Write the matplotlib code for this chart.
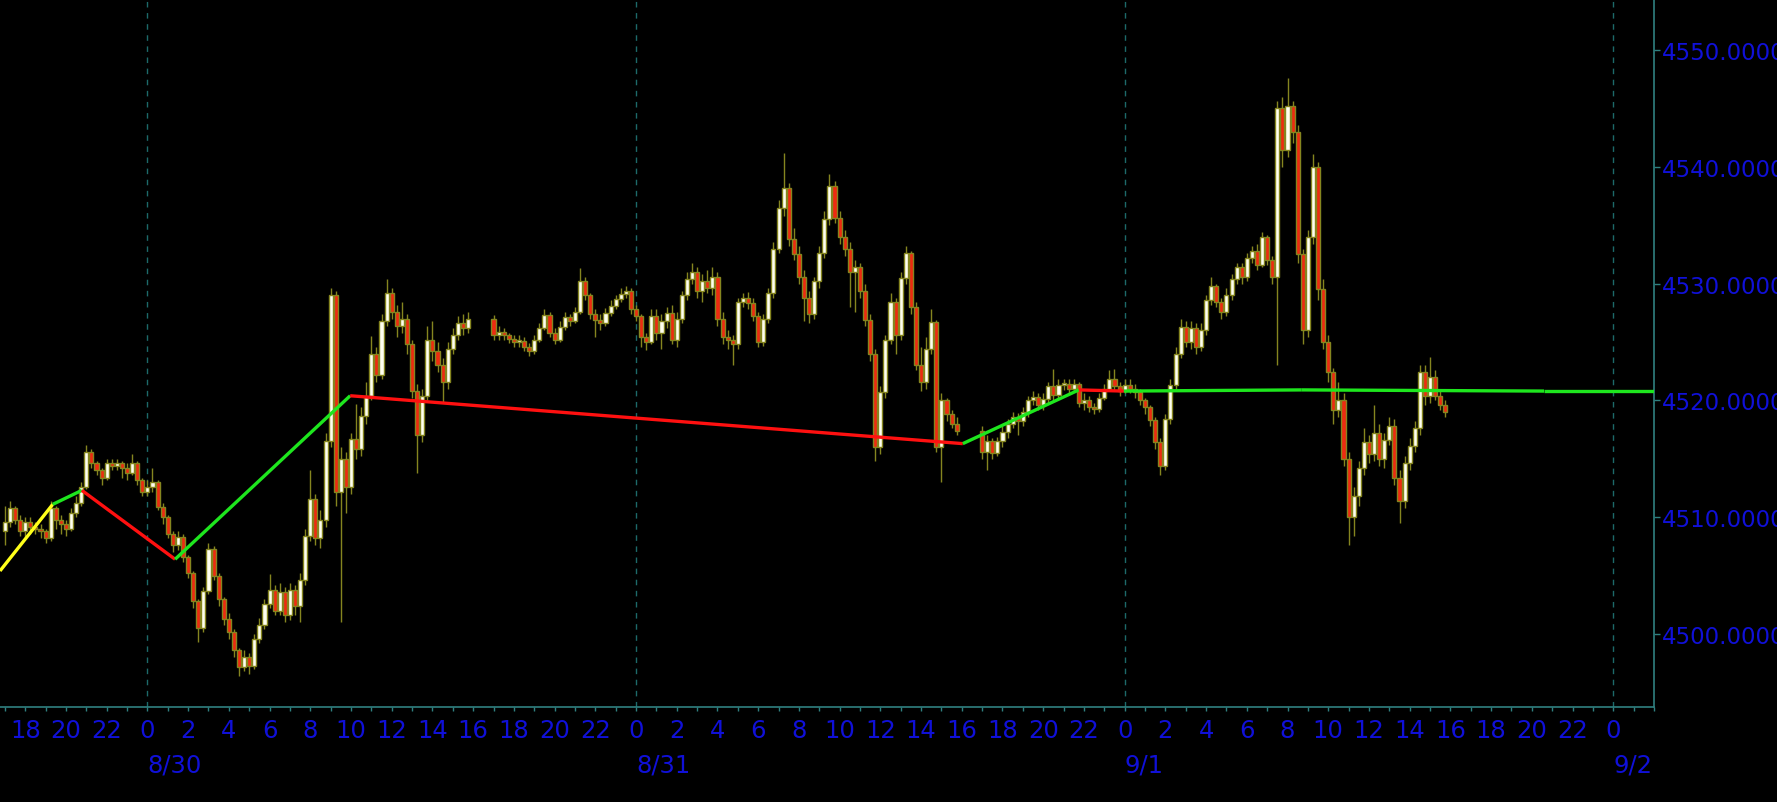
import matplotlib.pyplot as plt
import numpy as np
from matplotlib import font_manager
from matplotlib.ticker import MultipleLocator, FuncFormatter
import matplotlib.transforms as mtransforms

# time axis: hours counted from 8/30 00:00, 15 minute bars, 92 bars per session
session_start = [-7.0, 17.0, 41.0]
first_open = 4508.8

close_s1 = [4509.6, 4510.8, 4509.8, 4508.8, 4509.6, 4509.2, 4509.0, 4508.8, 4508.2, 4510.8,
            4509.8, 4509.4, 4509.0, 4510.4, 4511.2, 4512.6, 4515.6, 4514.6, 4514.0, 4513.4,
            4514.6, 4514.4, 4514.6, 4514.2, 4513.8, 4514.6, 4513.2, 4512.2, 4512.6, 4513.0,
            4510.9, 4510.0, 4508.6, 4507.6, 4508.3, 4506.6, 4505.2, 4502.8, 4500.5, 4503.7,
            4507.3, 4505.0, 4503.0, 4501.3, 4500.2, 4498.6, 4497.2, 4498.0, 4497.3, 4499.6,
            4500.8, 4502.6, 4503.8, 4502.0, 4503.6, 4501.6, 4503.8, 4502.4, 4504.6, 4508.4,
            4511.6, 4508.2, 4509.8, 4516.5, 4529.0, 4512.2, 4515.0, 4512.6, 4516.7, 4515.8,
            4518.7, 4520.4, 4524.0, 4522.2, 4526.8, 4529.2, 4527.6, 4526.4, 4527.0, 4524.8,
            4520.8, 4517.0, 4520.4, 4525.2, 4524.2, 4523.0, 4521.6, 4524.4, 4525.6, 4526.6,
            4526.2, 4527.0]
high_s1 = [4511.0, 4511.4, 4511.0, 4510.2, 4510.0, 4510.0, 4509.6, 4509.4, 4509.0, 4511.4,
           4511.0, 4510.2, 4509.8, 4510.8, 4511.8, 4513.0, 4516.2, 4515.8, 4514.8, 4514.2,
           4515.0, 4515.0, 4515.0, 4514.8, 4514.6, 4515.4, 4514.8, 4513.4, 4513.2, 4514.2,
           4513.2, 4511.2, 4510.2, 4508.8, 4508.8, 4508.6, 4506.8, 4505.4, 4503.0, 4504.0,
           4507.8, 4507.5, 4505.2, 4503.2, 4501.8, 4500.4, 4498.8, 4498.6, 4498.4, 4500.0,
           4501.4, 4503.0, 4505.1, 4504.2, 4504.4, 4504.0, 4504.4, 4504.2, 4505.2, 4509.0,
           4514.0, 4512.0, 4510.6, 4517.2, 4529.6, 4529.4, 4516.0, 4515.6, 4517.2, 4519.7,
           4519.4, 4521.6, 4525.5, 4524.6, 4527.4, 4530.4, 4529.6, 4528.2, 4528.4, 4527.4,
           4525.2, 4521.4, 4521.0, 4526.4, 4526.8, 4525.0, 4523.6, 4525.0, 4526.2, 4527.2,
           4527.4, 4527.6]
low_s1 = [4507.6, 4509.2, 4509.4, 4508.4, 4508.3, 4508.6, 4508.6, 4508.2, 4507.8, 4508.0,
          4509.0, 4508.6, 4508.4, 4508.8, 4510.0, 4511.0, 4512.4, 4514.2, 4513.6, 4512.8,
          4513.2, 4514.0, 4514.0, 4513.4, 4513.2, 4513.6, 4512.8, 4511.8, 4511.8, 4512.2,
          4510.6, 4509.4, 4508.2, 4507.0, 4507.2, 4506.2, 4504.8, 4502.2, 4499.3, 4500.2,
          4503.4, 4504.6, 4502.4, 4500.8, 4499.6, 4498.0, 4496.4, 4496.8, 4496.6, 4497.0,
          4499.2, 4500.4, 4502.2, 4501.6, 4501.6, 4501.0, 4501.2, 4501.6, 4501.0, 4504.2,
          4508.0, 4507.6, 4507.4, 4509.2, 4516.0, 4511.0, 4501.0, 4510.4, 4512.0, 4515.0,
          4515.2, 4518.0, 4520.0, 4521.6, 4521.8, 4526.4, 4527.0, 4525.4, 4525.8, 4524.0,
          4520.2, 4513.8, 4516.4, 4520.0, 4523.4, 4522.4, 4519.8, 4521.0, 4524.0, 4525.2,
          4525.6, 4525.8]

close_s2 = [4525.6, 4525.9, 4525.6, 4525.3, 4525.0, 4525.1, 4524.6, 4524.2, 4525.2, 4526.2,
            4527.3, 4525.8, 4525.2, 4526.3, 4527.1, 4526.8, 4527.6, 4530.2, 4529.0, 4527.4,
            4526.9, 4526.6, 4527.5, 4528.1, 4528.7, 4529.1, 4529.4, 4527.8, 4527.2, 4525.4,
            4525.0, 4527.2, 4525.8, 4526.8, 4527.5, 4525.2, 4527.0, 4529.0, 4530.4, 4531.0,
            4529.4, 4530.2, 4529.6, 4530.6, 4527.0, 4525.4, 4525.2, 4524.8, 4528.4, 4528.8,
            4528.3, 4527.2, 4525.0, 4527.0, 4529.2, 4533.0, 4536.5, 4538.2, 4533.8, 4532.5,
            4530.6, 4528.8, 4527.4, 4530.2, 4532.6, 4535.5, 4538.4, 4535.6, 4534.0, 4533.0,
            4531.0, 4531.4, 4529.4, 4526.9, 4524.0, 4516.0, 4520.7, 4525.2, 4528.4, 4525.6,
            4530.5, 4532.6, 4528.0, 4523.0, 4521.6, 4524.4, 4526.7, 4516.0, 4520.0, 4518.8,
            4518.0, 4517.4]
high_s2 = [4527.3, 4526.4, 4526.2, 4525.8, 4525.6, 4525.6, 4525.4, 4524.9, 4525.6, 4526.6,
           4527.8, 4527.6, 4526.2, 4526.8, 4527.6, 4527.4, 4528.0, 4531.3, 4530.6, 4529.2,
           4527.8, 4527.4, 4527.9, 4528.6, 4529.0, 4529.6, 4529.8, 4529.6, 4528.2, 4527.4,
           4525.8, 4527.8, 4527.8, 4527.4, 4528.0, 4528.2, 4527.6, 4529.4, 4531.0, 4531.8,
           4531.4, 4530.8, 4531.2, 4531.4, 4531.0, 4527.6, 4526.0, 4525.6, 4528.8, 4529.2,
           4529.3, 4528.8, 4527.6, 4527.4, 4529.6, 4533.6, 4537.2, 4541.2, 4538.6, 4534.8,
           4533.2, 4531.2, 4529.4, 4530.6, 4533.2, 4536.2, 4539.4, 4538.8, 4536.2, 4534.6,
           4533.6, 4532.0, 4531.8, 4530.0, 4527.4, 4524.4, 4521.2, 4525.6, 4529.2, 4528.8,
           4531.0, 4533.2, 4532.8, 4528.4, 4524.6, 4525.4, 4527.8, 4526.9, 4520.6, 4520.2,
           4519.2, 4518.6]
low_s2 = [4525.2, 4525.2, 4525.2, 4524.9, 4524.6, 4524.6, 4524.2, 4523.8, 4524.0, 4525.0,
          4526.0, 4525.4, 4524.8, 4525.0, 4526.0, 4526.4, 4526.6, 4527.4, 4528.6, 4527.0,
          4525.4, 4526.0, 4526.4, 4527.2, 4527.8, 4528.4, 4528.8, 4527.4, 4526.8, 4524.6,
          4524.3, 4524.8, 4525.2, 4524.4, 4526.2, 4524.8, 4524.6, 4526.6, 4528.6, 4530.0,
          4528.8, 4528.4, 4529.2, 4529.0, 4526.4, 4524.8, 4524.4, 4523.0, 4524.4, 4528.0,
          4527.8, 4526.8, 4524.6, 4524.7, 4526.6, 4528.8, 4532.6, 4535.8, 4533.2, 4532.0,
          4530.0, 4526.8, 4526.6, 4527.0, 4529.6, 4532.2, 4535.0, 4535.2, 4533.4, 4532.4,
          4528.0, 4527.6, 4528.8, 4526.4, 4523.4, 4514.8, 4515.4, 4520.2, 4524.8, 4524.0,
          4525.2, 4530.0, 4527.4, 4522.6, 4520.8, 4521.0, 4524.0, 4515.6, 4513.0, 4518.2,
          4517.6, 4517.0]

close_s3 = [4515.6, 4516.5, 4515.5, 4516.5, 4517.3, 4518.0, 4518.6, 4518.2, 4519.0, 4520.0,
            4520.3, 4519.6, 4520.1, 4521.2, 4520.5, 4521.3, 4521.4, 4521.0, 4521.4, 4519.8,
            4520.0, 4519.4, 4519.3, 4520.2, 4521.0, 4521.8, 4521.2, 4520.8, 4521.3, 4521.0,
            4520.7, 4520.0, 4519.4, 4518.3, 4516.4, 4514.4, 4518.4, 4521.3, 4524.0, 4526.3,
            4525.0, 4526.2, 4524.6, 4526.0, 4528.6, 4529.8, 4528.4, 4527.6, 4529.0, 4530.4,
            4531.4, 4530.6, 4532.2, 4532.8, 4531.6, 4534.0, 4532.0, 4530.6, 4545.0, 4541.4,
            4545.2, 4543.0, 4532.5, 4526.0, 4534.0, 4540.0, 4529.5, 4525.0, 4522.4, 4519.2,
            4520.0, 4515.0, 4510.0, 4511.8, 4514.2, 4516.4, 4515.4, 4517.2, 4515.0, 4516.6,
            4517.8, 4513.4, 4511.4, 4514.6, 4516.1, 4517.6, 4522.4, 4520.4, 4522.0, 4520.4,
            4519.6, 4519.0]
high_s3 = [4517.8, 4517.0, 4516.8, 4516.9, 4517.8, 4518.4, 4519.0, 4518.9, 4519.4, 4520.4,
           4520.8, 4520.6, 4520.6, 4521.6, 4522.7, 4521.8, 4521.8, 4521.8, 4521.8, 4521.6,
           4520.6, 4520.4, 4519.8, 4520.6, 4521.4, 4522.6, 4522.7, 4521.6, 4521.8, 4521.8,
           4521.4, 4521.0, 4520.2, 4519.6, 4518.6, 4516.8, 4518.8, 4521.8, 4524.6, 4527.0,
           4526.8, 4526.8, 4526.6, 4526.6, 4529.0, 4530.6, 4530.0, 4528.8, 4529.6, 4530.8,
           4531.8, 4531.8, 4532.6, 4533.2, 4533.4, 4534.4, 4534.2, 4532.4, 4545.6, 4546.0,
           4547.6, 4545.6, 4543.6, 4533.0, 4534.6, 4541.1, 4540.4, 4530.4, 4525.6, 4522.8,
           4521.6, 4520.6, 4515.6, 4512.6, 4514.8, 4517.6, 4517.0, 4519.6, 4518.0, 4517.2,
           4518.6, 4518.4, 4514.0, 4515.2, 4516.8, 4518.2, 4523.0, 4523.0, 4523.7, 4522.6,
           4520.8, 4520.0]
low_s3 = [4515.0, 4514.0, 4515.0, 4515.2, 4516.0, 4516.8, 4517.6, 4517.0, 4517.8, 4518.6,
          4519.6, 4519.2, 4519.2, 4519.8, 4520.0, 4520.2, 4520.9, 4520.6, 4520.8, 4519.4,
          4519.2, 4519.0, 4518.8, 4519.0, 4520.0, 4520.8, 4520.8, 4520.4, 4520.6, 4520.6,
          4520.2, 4519.6, 4518.8, 4517.8, 4515.8, 4513.6, 4514.0, 4518.0, 4520.8, 4523.6,
          4524.6, 4524.4, 4524.0, 4524.2, 4525.6, 4528.2, 4528.0, 4527.0, 4527.2, 4528.6,
          4530.0, 4530.0, 4530.2, 4531.8, 4531.2, 4531.4, 4531.6, 4530.0, 4523.0, 4540.0,
          4540.8, 4542.0, 4531.8, 4524.8, 4525.4, 4533.4, 4528.6, 4524.4, 4521.6, 4518.0,
          4518.6, 4514.4, 4507.6, 4508.4, 4511.0, 4513.6, 4514.6, 4514.8, 4514.4, 4514.2,
          4516.2, 4512.8, 4509.5, 4510.8, 4514.0, 4515.6, 4517.0, 4519.6, 4519.8, 4520.0,
          4519.2, 4518.6]

# zigzag indicator pivots (hour, price) and colour of each leg
zz_hours = [-7.24, -4.65, -3.22, 1.36, 9.96, 40.05, 45.75, 47.96, 56.7, 68.6, 74.0]
zz_prices = [4505.4, 4511.1, 4512.3, 4506.4, 4520.4, 4516.3, 4520.9, 4520.8, 4520.9, 4520.8, 4520.8]
zz_colors = ["#ffff1a", "#1ee61e", "#ff1010", "#1ee61e", "#ff1010", "#1ee61e", "#ff1010",
             "#1ee61e", "#1ee61e", "#1ee61e"]

day_labels = ["8/30", "8/31", "9/1", "9/2"]
day_hours = [0, 24, 48, 72]
y_ticks = [4500, 4510, 4520, 4530, 4540, 4550]

BLUE = "#1010d8"
TEAL = "#2f8080"
GRID = "#1d6a6a"
UP_FACE = "#fffff0"
DOWN_FACE = "#ee2a10"
EDGE = "#85851f"

narrow = "Liberation Sans Narrow"
names = {f.name for f in font_manager.fontManager.ttflist}
if narrow in names:
    xfont, xsize = [narrow, "DejaVu Sans"], 20
else:
    xfont, xsize = ["DejaVu Sans"], 17.5

closes = np.concatenate([close_s1, close_s2, close_s3])
highs = np.concatenate([high_s1, high_s2, high_s3])
lows = np.concatenate([low_s1, low_s2, low_s3])
opens = np.concatenate([[first_open], closes[:-1]])
times = np.concatenate([s + 0.25 * np.arange(len(c))
                        for s, c in zip(session_start, [close_s1, close_s2, close_s3])])
highs = np.maximum(highs, np.maximum(opens, closes))
lows = np.minimum(lows, np.minimum(opens, closes))

fig = plt.figure(figsize=(17.77, 8.03), dpi=100, facecolor="black")
ax = fig.add_axes([0, 95 / 803, 1654 / 1777, 708 / 803])
ax.set_facecolor("black")

for h in day_hours:
    ax.axvline(h, color=GRID, lw=1, ls=(0, (4, 4)), zorder=0)

ax.vlines(times, lows, highs, color=EDGE, lw=1, zorder=1)
up = closes >= opens
body_bottom = np.minimum(opens, closes)
body_height = np.maximum(np.abs(closes - opens), 0.15)
ax.bar(times[up], body_height[up], bottom=body_bottom[up], width=0.2,
       color=UP_FACE, edgecolor=EDGE, linewidth=1.0, zorder=2)
ax.bar(times[~up], body_height[~up], bottom=body_bottom[~up], width=0.2,
       color=DOWN_FACE, edgecolor=EDGE, linewidth=1.0, zorder=2)

for i, col in enumerate(zz_colors):
    ax.plot(zz_hours[i:i + 2], zz_prices[i:i + 2], color=col, lw=2.4,
            solid_capstyle="butt", zorder=3)

ax.set_xlim(-7.24, 74.0)
ax.set_ylim(4493.75, 4554.37)

for side in ["top", "left"]:
    ax.spines[side].set_visible(False)
for side in ["bottom", "right"]:
    ax.spines[side].set_color(TEAL)
    ax.spines[side].set_linewidth(1.2)

ax.xaxis.set_major_locator(MultipleLocator(2))
ax.xaxis.set_minor_locator(MultipleLocator(1))
ax.xaxis.set_major_formatter(FuncFormatter(lambda v, pos: "" if v > 73 else str(int(round(v)) % 24)))
ax.tick_params(axis="x", which="both", colors=TEAL, length=3, width=1)
ax.tick_params(axis="x", which="major", labelcolor=BLUE, labelsize=xsize, pad=5)
for lbl in ax.get_xticklabels():
    lbl.set_family(xfont)

ax.yaxis.tick_right()
ax.set_yticks(y_ticks)
ax.yaxis.set_major_formatter(FuncFormatter(lambda v, pos: f"{v:.4f}"))
ax.tick_params(axis="y", colors=TEAL, length=4, width=1, labelcolor=BLUE,
               labelsize=16.5, pad=2)

trans = mtransforms.blended_transform_factory(ax.transData, ax.transAxes)
for lbl, h in zip(day_labels, day_hours):
    ax.text(h, -0.081, lbl, transform=trans, ha="left", va="center",
            color=BLUE, fontsize=xsize, family=xfont, clip_on=False)

fig.savefig("out.png", dpi=100, facecolor="black")
plt.close(fig)
